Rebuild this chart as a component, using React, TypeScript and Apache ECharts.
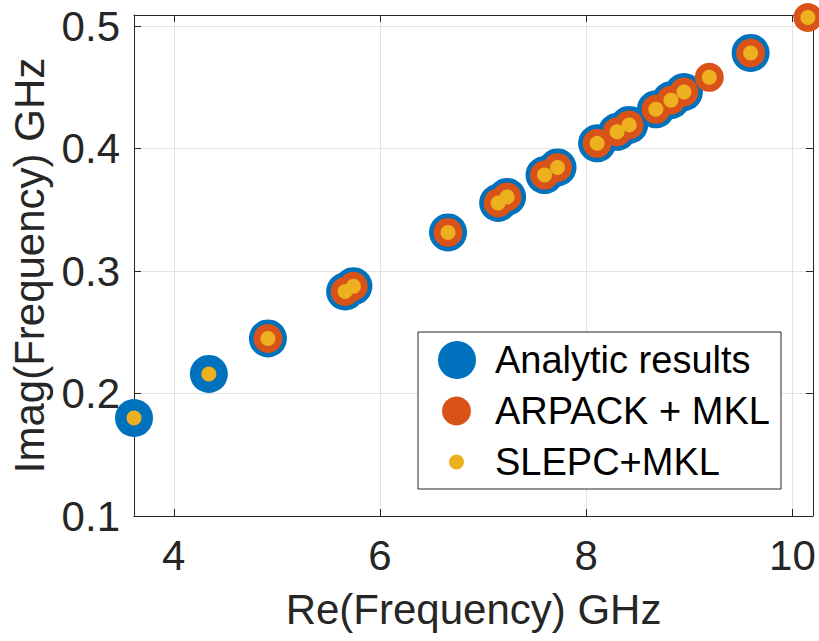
import React, { useEffect, useRef } from "react";
import * as echarts from "echarts";

// Analytic results
const analyticX = [3.614, 4.34, 4.913, 5.662, 5.742, 6.66, 7.146, 7.233, 7.596, 7.722, 8.106, 8.3, 8.417, 8.676, 8.822, 8.948, 9.595];
const analyticY = [0.18, 0.216, 0.245, 0.2833, 0.2876, 0.3315, 0.3556, 0.3605, 0.3783, 0.3846, 0.4042, 0.4136, 0.4193, 0.432, 0.4395, 0.4461, 0.478];

// ARPACK + MKL
const arpackX = [4.913, 5.662, 5.742, 6.66, 7.146, 7.233, 7.596, 7.722, 8.106, 8.3, 8.417, 8.676, 8.822, 8.948, 9.194, 9.595, 10.15];
const arpackY = [0.245, 0.2833, 0.2876, 0.3315, 0.3556, 0.3605, 0.3783, 0.3846, 0.4042, 0.4136, 0.4193, 0.432, 0.4395, 0.4461, 0.4581, 0.478, 0.507];

// SLEPC+MKL
const slepcX = [3.614, 4.34, 4.913, 5.662, 5.742, 6.66, 7.146, 7.233, 7.596, 7.722, 8.106, 8.3, 8.417, 8.676, 8.822, 8.948, 9.194, 9.595, 10.15];
const slepcY = [0.18, 0.216, 0.245, 0.2833, 0.2876, 0.3315, 0.3556, 0.3605, 0.3783, 0.3846, 0.4042, 0.4136, 0.4193, 0.432, 0.4395, 0.4461, 0.4581, 0.478, 0.507];

const seriesNames = ["Analytic results", "ARPACK + MKL", "SLEPC+MKL"];
const xName = "Re(Frequency) GHz";
const yName = "Imag(Frequency) GHz";

const FONT = "'Liberation Sans', Arial, Helvetica, sans-serif";
const AX = "#262626";

const zip = (xs: number[], ys: number[]) => xs.map((x, i) => [x, ys[i]]);

export default function App() {
  const ref = useRef<HTMLDivElement>(null);
  useEffect(() => {
    if (!ref.current) return;
    const chart = echarts.init(ref.current, undefined, { renderer: "svg" });
    const xBase = {
      type: "value",
      min: 3.614,
      max: 10.2,
      minInterval: 2,
      maxInterval: 2,
      splitNumber: 3,
      axisLine: { show: true, onZero: false, lineStyle: { color: AX, width: 1 } },
      axisTick: { show: true, inside: true, length: 7, lineStyle: { color: AX } },
    };
    const yBase = {
      type: "value",
      min: 0.1,
      max: 0.509,
      interval: 0.1,
      axisLine: { show: true, onZero: false, lineStyle: { color: AX, width: 1 } },
      axisTick: { show: true, inside: true, length: 7, lineStyle: { color: AX } },
    };
    chart.setOption({
      animation: false,
      backgroundColor: "#ffffff",
      textStyle: { fontFamily: FONT },
      grid: { left: 134, right: 6, top: 15, bottom: 125 },
      xAxis: [
        {
          ...xBase,
          position: "bottom",
          axisLabel: { fontSize: 42, color: AX, margin: 18, showMinLabel: false, showMaxLabel: false, fontFamily: FONT },
          splitLine: { show: true, lineStyle: { color: "#e3e3e3", width: 1 } },
          name: xName,
          nameLocation: "middle",
          nameGap: 72,
          nameTextStyle: { fontSize: 42, color: AX, fontFamily: FONT },
        },
        {
          ...xBase,
          position: "top",
          axisLabel: { show: false },
          splitLine: { show: false },
        },
      ],
      yAxis: [
        {
          ...yBase,
          position: "left",
          axisLabel: { fontSize: 42, color: AX, margin: 14, showMaxLabel: false, fontFamily: FONT },
          splitLine: { show: true, lineStyle: { color: "#e3e3e3", width: 1 } },
          name: yName,
          nameLocation: "middle",
          nameGap: 83,
          nameTextStyle: { fontSize: 42, color: AX, fontFamily: FONT },
        },
        {
          ...yBase,
          position: "right",
          axisLabel: { show: false },
          splitLine: { show: false },
        },
      ],
      graphic: [
        {
          type: "rect",
          z: 3,
          shape: { x: 418, y: 332, width: 363, height: 157 },
          style: { fill: "#ffffff", stroke: AX, lineWidth: 1 },
        },
      ],
      legend: [
        {
          data: [seriesNames[0]],
          left: 438,
          top: 340,
          z: 5,
          padding: 0,
          itemGap: 0,
          itemWidth: 38,
          itemHeight: 38,
          selectedMode: false,
          textStyle: { fontSize: 38, color: "#000", lineHeight: 40, padding: [0, 0, 0, 14], fontFamily: FONT },
        },
        {
          data: [seriesNames[1]],
          left: 442,
          top: 391,
          z: 5,
          padding: 0,
          itemGap: 0,
          itemWidth: 29,
          itemHeight: 29,
          selectedMode: false,
          textStyle: { fontSize: 38, color: "#000", lineHeight: 40, padding: [0, 0, 0, 19], fontFamily: FONT },
        },
        {
          data: [seriesNames[2]],
          left: 449,
          top: 442,
          z: 5,
          padding: 0,
          itemGap: 0,
          itemWidth: 15,
          itemHeight: 15,
          selectedMode: false,
          textStyle: { fontSize: 38, color: "#000", lineHeight: 40, padding: [0, 0, 0, 26], fontFamily: FONT },
        },
      ],
      series: [
        {
          name: seriesNames[0],
          type: "scatter",
          symbol: "circle",
          symbolSize: 38,
          clip: false,
          z: 2,
          itemStyle: { color: "#0072BD", opacity: 1 },
          data: zip(analyticX, analyticY),
        },
        {
          name: seriesNames[1],
          type: "scatter",
          symbol: "circle",
          symbolSize: 29,
          clip: false,
          z: 2,
          itemStyle: { color: "#D95319", opacity: 1 },
          data: zip(arpackX, arpackY),
        },
        {
          name: seriesNames[2],
          type: "scatter",
          symbol: "circle",
          symbolSize: 15,
          clip: false,
          z: 2,
          itemStyle: { color: "#EDB120", opacity: 1 },
          data: zip(slepcX, slepcY),
        },
      ],
    });
    return () => chart.dispose();
  }, []);
  return (
    <div
      ref={ref}
      style={{ position: "absolute", left: 0, top: 0, width: 819, height: 641, background: "#fff" }}
    />
  );
}
